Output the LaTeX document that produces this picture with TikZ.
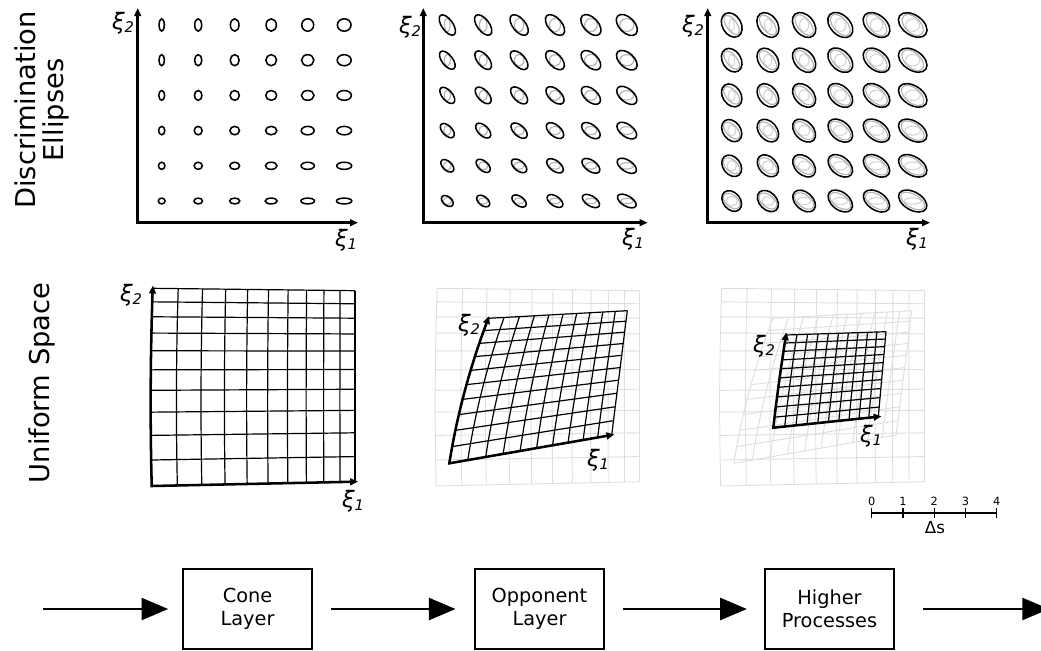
\documentclass[tikz,border=0pt]{standalone}
\usepackage{fontspec}
\setmainfont{DejaVu Sans}
\usetikzlibrary{arrows.meta}

\newcommand\setgridc[8]{\def\BLx{#1}\def\BLy{#2}\def\BRx{#3}\def\BRy{#4}\def\TLx{#5}\def\TLy{#6}\def\TRx{#7}\def\TRy{#8}}
\newcommand\setgridw[4]{\def\gA{#1}\def\gB{#2}\def\gbow{#3}\def\gdx{#4}}
\newcommand\drawgrid[1]{%
  \foreach \k in {0,...,10}{%
    \draw[#1] plot[variable=\qt,domain=0:1,samples=11] ({gx(\k/10,\qt)},{gy(\k/10,\qt)});
    \draw[#1] plot[variable=\qt,domain=0:1,samples=11] ({gx(\qt,\k/10)},{gy(\qt,\k/10)});
  }%
}
\newcommand\drawgaxes[1]{%
  \draw[gaxis] plot[variable=\qt,domain=#1:0,samples=14] ({gx(0,\qt)},{gy(0,\qt)})
     -- plot[variable=\qt,domain=0:#1,samples=14] ({gx(\qt,0)},{gy(\qt,0)});
}
\newcommand\inscr[7]{%
  \pgfmathsetmacro\iph{#6-(#3)}%
  \pgfmathsetmacro\ial{10/((#1)*(#1))}%
  \pgfmathsetmacro\ibe{10/((#2)*(#2))}%
  \pgfmathsetmacro\icc{cos(\iph)}%
  \pgfmathsetmacro\iss{sin(\iph)}%
  \pgfmathsetmacro\iPa{(#4)*(#4)*(\ial*\icc*\icc+\ibe*\iss*\iss)}%
  \pgfmathsetmacro\iPb{(#5)*(#5)*(\ial*\iss*\iss+\ibe*\icc*\icc)}%
  \pgfmathsetmacro\iPc{(#4)*(#5)*(\ibe-\ial)*\icc*\iss}%
  \pgfmathsetmacro\ilam{(\iPa+\iPb)/2+sqrt(((\iPa-\iPb)/2)^2+(\iPc)^2)}%
  \pgfmathsetmacro#7{3.1623/sqrt(\ilam)}%
}
\newcommand\xil[1]{{\fontsize{17}{17}\selectfont\itshape ξ\raisebox{-2.7pt}{\fontsize{11}{11}\selectfont #1}}}

\begin{document}
\begin{tikzpicture}[x=0.75pt,y=-0.75pt,
  declare function={
    bil(\qa,\qb,\qc,\qd,\qe,\qf)=(1-\qa)*(1-\qb)*\qc+\qa*(1-\qb)*\qd+(1-\qa)*\qb*\qe+\qa*\qb*\qf;
    wa(\qx)=\gA*\qx-(\gA-1)*\qx*\qx;
    wb(\qx)=\gB*\qx-(\gB-1)*\qx*\qx;
    gx(\qu,\qv)=bil(wa(\qu),wb(\qv),\BLx,\BRx,\TLx,\TRx)-\gbow*4*wb(\qv)*(1-wb(\qv))*(1-wa(\qu))+\gdx;
    gy(\qu,\qv)=bil(wa(\qu),wb(\qv),\BLy,\BRy,\TLy,\TRy);
  },
  ellblack/.style={line width=1.15pt,black},
  ellgray/.style={line width=0.85pt,black!30},
  elllight/.style={line width=0.85pt,black!16},
  axis/.style={line width=2.1pt,line join=miter,{Triangle[length=6pt,width=5pt]}-{Triangle[length=6pt,width=5pt]}},
  gaxis/.style={line width=1.9pt,line join=miter,{Triangle[length=6pt,width=5pt]}-{Triangle[length=6pt,width=5pt]}},
  gline/.style={line width=0.9pt,black},
  gbg/.style={line width=0.7pt,black!13},
  lbl/.style={inner sep=0pt},
  rowlbl/.style={rotate=90,align=center,inner sep=0pt,font=\fontsize{20.5}{21.5}\selectfont},
  boxst/.style={draw,line width=1.2pt,minimum width=96.75pt,minimum height=60pt,align=center,inner sep=0pt,font=\fontsize{14.5}{17.5}\selectfont},
  flow/.style={line width=1.8pt,-{Triangle[length=20pt,width=16.5pt]}},
  tick/.style={inner sep=0pt,font=\fontsize{8.5}{9}\selectfont}
]
\useasboundingbox (0,0) rectangle (1041,650);
\clip (0,0) rectangle (1041,650);

% ---------- row labels
\node[rowlbl] (lblA) at (42,110) {Discrimination\\Ellipses};
\node[rowlbl] (lblB) at (42,383) {Uniform Space};

% ---------- panel 1
\foreach \i in {0,...,5}{\foreach \j in {0,...,5}{
  \pgfmathsetmacro\cx{161.7+36.5*\i}\pgfmathsetmacro\cy{201-35.2*\j}
  \pgfmathsetmacro\rx{3.4+0.85*\i-0.16*\j}\pgfmathsetmacro\ry{2.9+0.66*\j}
  \draw[ellblack] (\cx,\cy) ellipse [x radius=\rx, y radius=\ry];
}}
\draw[axis] (137.7,8) -- (137.7,222.7) -- (358,222.7);
\node[lbl] (x2a) at (123,23) {\xil{2}};
\node[lbl] (x1a) at (346,240) {\xil{1}};

% ---------- panel 2
\foreach \i in {0,...,5}{\foreach \j in {0,...,5}{
  \pgfmathsetmacro\uu{\i/5}\pgfmathsetmacro\vv{\j/5}
  \pgfmathsetmacro\cx{447.3+35.9*\i}\pgfmathsetmacro\cy{201-35.2*\j}
  \pgfmathsetmacro\rx{3.4+0.85*\i-0.16*\j}\pgfmathsetmacro\ry{2.9+0.66*\j}
  \pgfmathsetmacro\Ra{bil(\uu,\vv,6.8,10.4,11.8,12.8)}
  \pgfmathsetmacro\Rb{bil(\uu,\vv,4.3,5.2,5.6,7.7)}
  \pgfmathsetmacro\Rt{bil(\uu,\vv,-40,-30,-55,-45)}
  \inscr{\Ra}{\Rb}{\Rt}{\rx}{\ry}{0}{\tA}
  \pgfmathsetmacro\grx{\tA*\rx*0.88}\pgfmathsetmacro\gry{\tA*\ry*0.88}
  \draw[ellgray] (\cx,\cy) ellipse [x radius=\grx, y radius=\gry];
  \draw[ellblack,shift={(\cx,\cy)},rotate=\Rt] (0,0) ellipse [x radius=\Ra, y radius=\Rb];
}}
\draw[axis] (423.3,8) -- (423.3,222.7) -- (647.7,222.7);
\node[lbl] (x2b) at (410,27) {\xil{2}};
\node[lbl] (x1b) at (633,239) {\xil{1}};

% ---------- panel 3
\foreach \i in {0,...,5}{\foreach \j in {0,...,5}{
  \pgfmathsetmacro\uu{\i/5}\pgfmathsetmacro\vv{\j/5}
  \pgfmathsetmacro\cx{731.7+36.2*\i}\pgfmathsetmacro\cy{201-35.2*\j}
  \pgfmathsetmacro\rx{3.4+0.85*\i-0.16*\j}\pgfmathsetmacro\ry{2.9+0.66*\j}
  \pgfmathsetmacro\Ra{bil(\uu,\vv,6.8,10.4,11.8,12.8)}
  \pgfmathsetmacro\Rb{bil(\uu,\vv,4.3,5.2,5.6,7.7)}
  \pgfmathsetmacro\Rt{bil(\uu,\vv,-40,-30,-55,-45)}
  \pgfmathsetmacro\Sa{bil(\uu,\vv,11.5,15.5,13,16)}
  \pgfmathsetmacro\Sb{bil(\uu,\vv,8.5,9,9.4,10)}
  \pgfmathsetmacro\St{bil(\uu,\vv,-50,-30,-60,-35)}
  \inscr{\Sa}{\Sb}{\St}{\Ra}{\Rb}{\Rt}{\tB}
  \inscr{\Ra}{\Rb}{\Rt}{\rx}{\ry}{0}{\tA}
  \pgfmathsetmacro\mra{\tB*\Ra*0.86}\pgfmathsetmacro\mrb{\tB*\Rb*0.86}
  \pgfmathsetmacro\lrx{\tB*\tA*\rx*0.74}\pgfmathsetmacro\lry{\tB*\tA*\ry*0.74}
  \draw[elllight] (\cx,\cy) ellipse [x radius=\lrx, y radius=\lry];
  \draw[ellgray,shift={(\cx,\cy)},rotate=\Rt] (0,0) ellipse [x radius=\mra, y radius=\mrb];
  \draw[ellblack,shift={(\cx,\cy)},rotate=\St] (0,0) ellipse [x radius=\Sa, y radius=\Sb];
}}
\draw[axis] (707.7,8) -- (707.7,222.7) -- (930,222.7);
\node[lbl] (x2c) at (693,26) {\xil{2}};
\node[lbl] (x1c) at (917,239) {\xil{1}};

% ---------- grids: faint backgrounds
\setgridc{151.7}{486}{355}{481.7}{152.7}{288.3}{355}{290.7}
\setgridw{1.29}{1.35}{1.5}{284.5}
\drawgrid{gbg}
\setgridw{1.29}{1.35}{1.5}{569}
\drawgrid{gbg}
\setgridc{449.3}{463.3}{611.7}{435}{488.3}{318.3}{627.3}{310.7}
\setgridw{1.15}{1.17}{4}{284.5}
\drawgrid{gbg}

% ---------- panel 4
\setgridc{151.7}{486}{355}{481.7}{152.7}{288.3}{355}{290.7}
\setgridw{1.29}{1.35}{1.5}{0}
\drawgrid{gline}
\drawgaxes{1.022}
\node[lbl] (x2d) at (131,295) {\xil{2}};
\node[lbl] (x1d) at (353,501) {\xil{1}};

% ---------- panel 5
\setgridc{449.3}{463.3}{611.7}{435}{488.3}{318.3}{627.3}{310.7}
\setgridw{1.15}{1.17}{4}{0}
\drawgrid{gline}
\drawgaxes{1.02}
\node[lbl] (x2e) at (469,325) {\xil{2}};
\node[lbl] (x1e) at (598,460) {\xil{1}};

% ---------- panel 6
\setgridc{773.3}{427.7}{878.3}{416.7}{786}{335}{886}{331.7}
\setgridw{1.1}{1.15}{0.5}{0}
\drawgrid{gline}
\drawgaxes{1.035}
\node[lbl] (x2f) at (764,346) {\xil{2}};
\node[lbl] (x1f) at (871,436) {\xil{1}};

% ---------- scale bar
\draw[line width=1.5pt] (871.7,512.7) -- (996.7,512.7);
\foreach \n in {0,...,4}{
  \draw[line width=1pt] (871.7+31.25*\n,508) -- (871.7+31.25*\n,517.5);
  \node[tick] (t\n) at (871.7+31.25*\n,501) {\n};
}
\node[inner sep=0pt,font=\fontsize{12.5}{13}\selectfont] (ds) at (935,528) {Δs};

% ---------- processing chain
\node[boxst] (cone) at (247.5,609) {Cone\\Layer};
\node[boxst] (opp) at (539.5,609) {Opponent\\Layer};
\node[boxst] (high) at (829.5,609) {Higher\\Processes};
\coordinate (in) at (43,609);
\coordinate (out) at (1049,609);
\draw[flow,shorten >=10.5pt] (in) -- (cone.west);
\draw[flow,shorten <=13.5pt,shorten >=14pt] (cone.east) -- (opp.west);
\draw[flow,shorten <=13.5pt,shorten >=13pt] (opp.east) -- (high.west);
\draw[flow,shorten <=21pt] (high.east) -- (out);
\end{tikzpicture}
\end{document}
